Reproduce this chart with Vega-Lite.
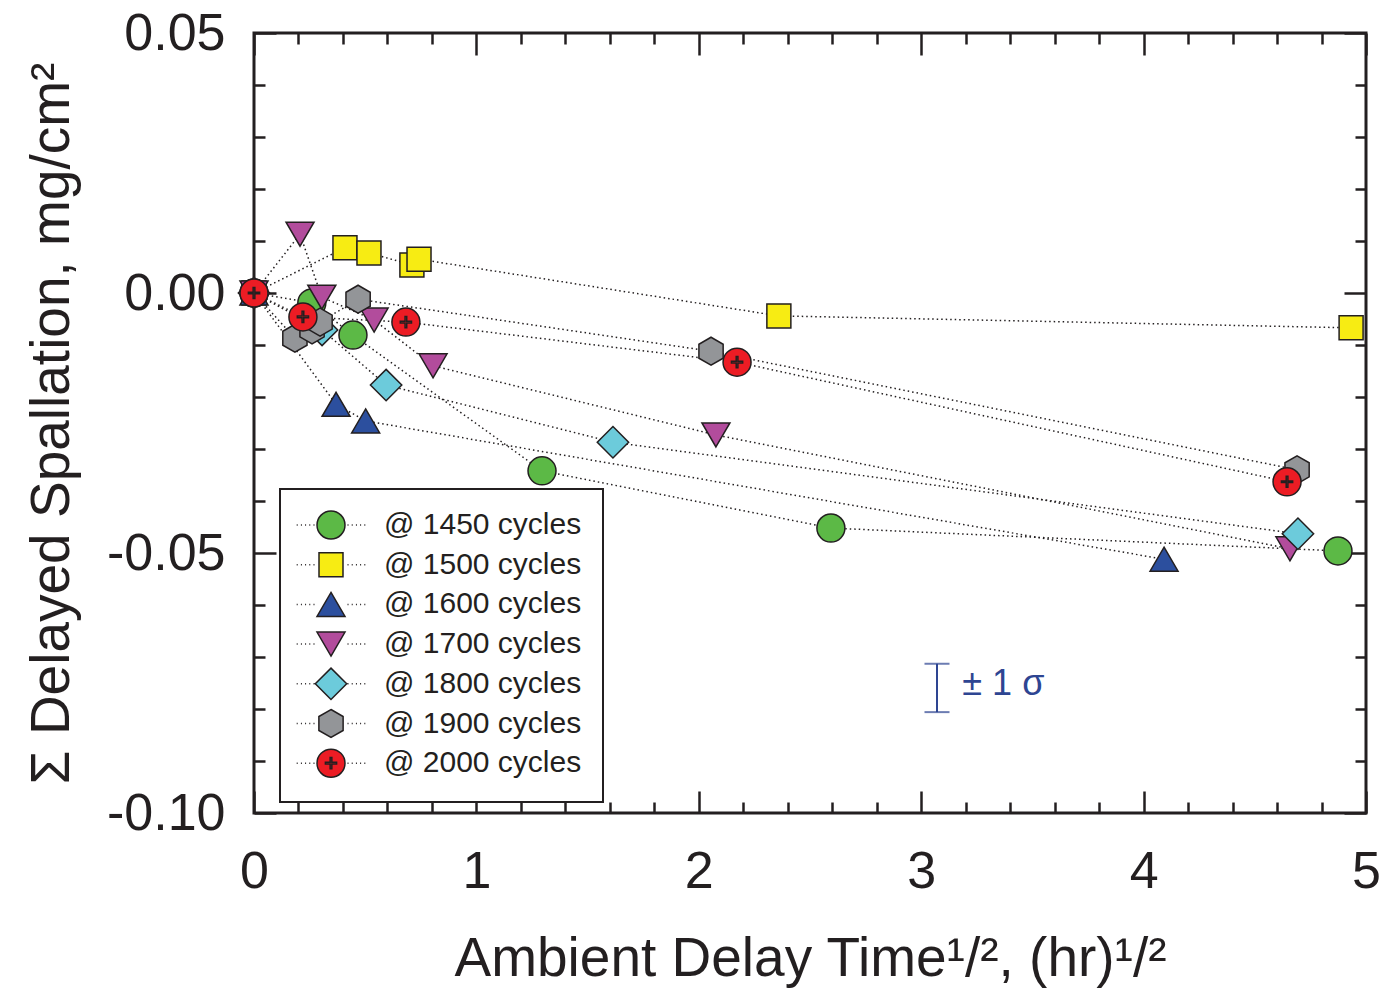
{
  "$schema": "https://vega.github.io/schema/vega-lite/v6.json",
  "width": 1112,
  "height": 780,
  "autosize": {"type": "none"},
  "padding": {"left": 254, "top": 33, "right": 19, "bottom": 176},
  "background": "white",
  "config": {
    "view": {"stroke": "#231f20", "strokeWidth": 3},
    "font": "Liberation Sans",
    "legend": {"strokeWidth": 2}
  },
  "datasets": {
    "pts": [
      {"series": "@ 1450 cycles", "x": 0, "y": 0},
      {"series": "@ 1450 cycles", "x": 0.26, "y": -0.0019},
      {"series": "@ 1450 cycles", "x": 0.445, "y": -0.0081},
      {"series": "@ 1450 cycles", "x": 1.295, "y": -0.0342},
      {"series": "@ 1450 cycles", "x": 2.594, "y": -0.0452},
      {"series": "@ 1450 cycles", "x": 4.874, "y": -0.0496},
      {"series": "@ 1500 cycles", "x": 0, "y": 0},
      {"series": "@ 1500 cycles", "x": 0.409, "y": 0.0087},
      {"series": "@ 1500 cycles", "x": 0.517, "y": 0.0077},
      {"series": "@ 1500 cycles", "x": 0.71, "y": 0.0054},
      {"series": "@ 1500 cycles", "x": 0.742, "y": 0.0065},
      {"series": "@ 1500 cycles", "x": 2.36, "y": -0.0044},
      {"series": "@ 1500 cycles", "x": 4.933, "y": -0.0067},
      {"series": "@ 1600 cycles", "x": 0, "y": 0},
      {"series": "@ 1600 cycles", "x": 0.369, "y": -0.0214},
      {"series": "@ 1600 cycles", "x": 0.502, "y": -0.0246},
      {"series": "@ 1600 cycles", "x": 4.092, "y": -0.0512},
      {"series": "@ 1700 cycles", "x": 0, "y": 0},
      {"series": "@ 1700 cycles", "x": 0.207, "y": 0.0113},
      {"series": "@ 1700 cycles", "x": 0.305, "y": -0.0008},
      {"series": "@ 1700 cycles", "x": 0.54, "y": -0.0052},
      {"series": "@ 1700 cycles", "x": 0.805, "y": -0.014},
      {"series": "@ 1700 cycles", "x": 2.077, "y": -0.0273},
      {"series": "@ 1700 cycles", "x": 4.658, "y": -0.0492},
      {"series": "@ 1800 cycles", "x": 0, "y": 0},
      {"series": "@ 1800 cycles", "x": 0.306, "y": -0.0071},
      {"series": "@ 1800 cycles", "x": 0.594, "y": -0.0177},
      {"series": "@ 1800 cycles", "x": 1.614, "y": -0.0287},
      {"series": "@ 1800 cycles", "x": 4.694, "y": -0.0463},
      {"series": "@ 1900 cycles", "x": 0, "y": 0},
      {"series": "@ 1900 cycles", "x": 0.184, "y": -0.0087},
      {"series": "@ 1900 cycles", "x": 0.261, "y": -0.0071},
      {"series": "@ 1900 cycles", "x": 0.297, "y": -0.0056},
      {"series": "@ 1900 cycles", "x": 0.468, "y": -0.0012},
      {"series": "@ 1900 cycles", "x": 2.055, "y": -0.0112},
      {"series": "@ 1900 cycles", "x": 4.69, "y": -0.034},
      {"series": "@ 2000 cycles", "x": 0, "y": 0},
      {"series": "@ 2000 cycles", "x": 0.22, "y": -0.0046},
      {"series": "@ 2000 cycles", "x": 0.683, "y": -0.0056},
      {"series": "@ 2000 cycles", "x": 2.172, "y": -0.0133},
      {"series": "@ 2000 cycles", "x": 4.645, "y": -0.0363}
    ],
    "sigmaBar": [
      {"x": 3.071, "ylo": -0.0806, "yhi": -0.0713}
    ],
    "sigmaCaps": [
      {"x": 3.071, "y": -0.0806},
      {"x": 3.071, "y": -0.0713}
    ],
    "sigmaText": [
      {"x": 3.185, "y": -0.0752, "label": "± 1 σ"}
    ]
  },
  "resolve": {
    "scale": {"fill": "independent", "shape": "independent"},
    "axis": {"x": "independent", "y": "independent"}
  },
  "layer": [
    {
      "data": {"name": "pts"},
      "mark": {"type": "line", "strokeDash": [1.5, 3], "strokeWidth": 1.5, "color": "#231f20"},
      "encoding": {
        "x": {
          "field": "x", "type": "quantitative",
          "scale": {"domain": [0, 5], "nice": false, "zero": false},
          "axis": {
            "orient": "bottom",
            "values": [0,0.2,0.4,0.6,0.8,1,1.2,1.4,1.6,1.8,2,2.2,2.4,2.6,2.8,3,3.2,3.4,3.6,3.8,4,4.2,4.4,4.6,4.8,5],
            "domain": false, "grid": false,
            "tickColor": "#231f20", "tickWidth": 2.5,
            "tickSize": {"condition": {"test": "abs(datum.value - round(datum.value)) < 0.000001", "value": -22}, "value": -11},
            "labelExpr": "abs(datum.value - round(datum.value)) < 0.000001 ? format(datum.value, 'd') : ''",
            "labelOverlap": false, "labelFlush": false,
            "labelFont": "Liberation Sans", "labelFontSize": 52, "labelColor": "#231f20",
            "labelPadding": 55,
            "title": "Ambient Delay Time¹/², (hr)¹/²",
            "titleFont": "Liberation Sans", "titleFontSize": 55, "titleFontWeight": "normal", "titleColor": "#231f20",
            "titleX": 556, "titleY": 162, "titleBaseline": "alphabetic", "titleAlign": "center"
          }
        },
        "y": {
          "field": "y", "type": "quantitative",
          "scale": {"domain": [-0.1, 0.05], "nice": false, "zero": false},
          "axis": {
            "orient": "left",
            "values": [-0.1,-0.09,-0.08,-0.07,-0.06,-0.05,-0.04,-0.03,-0.02,-0.01,0,0.01,0.02,0.03,0.04,0.05],
            "domain": false, "grid": false,
            "tickColor": "#231f20", "tickWidth": 2.5,
            "tickSize": {"condition": {"test": "abs(datum.value*20 - round(datum.value*20)) < 0.000001", "value": -22}, "value": -11},
            "labelExpr": "abs(datum.value*20 - round(datum.value*20)) < 0.000001 ? (datum.value < -0.000001 ? '-' + format(-datum.value, '.2f') : format(abs(datum.value), '.2f')) : ''",
            "labelOverlap": false, "labelFlush": false,
            "labelFont": "Liberation Sans", "labelFontSize": 52, "labelColor": "#231f20",
            "labelPadding": 51, "labelBaseline": "middle",
            "title": "Σ Delayed Spallation, mg/cm²",
            "titleFont": "Liberation Sans", "titleFontSize": 55, "titleFontWeight": "normal", "titleColor": "#231f20",
            "titleX": -186, "titleY": 390, "titleAngle": -90, "titleBaseline": "alphabetic", "titleAlign": "center"
          }
        },
        "detail": {"field": "series"}
      }
    },
    {
      "data": {"name": "pts"},
      "mark": {"type": "point", "filled": true, "size": 784, "stroke": "#231f20", "strokeWidth": 1.5, "opacity": 1},
      "encoding": {
        "x": {
          "field": "x", "type": "quantitative",
          "scale": {"domain": [0, 5], "nice": false, "zero": false},
          "axis": {
            "orient": "top",
            "values": [0,0.2,0.4,0.6,0.8,1,1.2,1.4,1.6,1.8,2,2.2,2.4,2.6,2.8,3,3.2,3.4,3.6,3.8,4,4.2,4.4,4.6,4.8,5],
            "domain": false, "grid": false, "labels": false, "title": null,
            "tickColor": "#231f20", "tickWidth": 2.5,
            "tickSize": {"condition": {"test": "abs(datum.value - round(datum.value)) < 0.000001", "value": -22}, "value": -11}
          }
        },
        "y": {
          "field": "y", "type": "quantitative",
          "scale": {"domain": [-0.1, 0.05], "nice": false, "zero": false},
          "axis": {
            "orient": "right",
            "values": [-0.1,-0.09,-0.08,-0.07,-0.06,-0.05,-0.04,-0.03,-0.02,-0.01,0,0.01,0.02,0.03,0.04,0.05],
            "domain": false, "grid": false, "labels": false, "title": null,
            "tickColor": "#231f20", "tickWidth": 2.5,
            "tickSize": {"condition": {"test": "abs(datum.value*20 - round(datum.value*20)) < 0.000001", "value": -22}, "value": -11}
          }
        },
        "fill": {
          "field": "series", "type": "nominal", "legend": null,
          "scale": {
            "domain": ["@ 1450 cycles","@ 1500 cycles","@ 1600 cycles","@ 1700 cycles","@ 1800 cycles","@ 1900 cycles","@ 2000 cycles"],
            "range": ["#5cb946","#f7ec13","#2c4f9e","#b24c9c","#6ccbdb","#939598","#ec1c24"]
          }
        },
        "shape": {
          "field": "series", "type": "nominal", "legend": null,
          "scale": {
            "domain": ["@ 1450 cycles","@ 1500 cycles","@ 1600 cycles","@ 1700 cycles","@ 1800 cycles","@ 1900 cycles","@ 2000 cycles"],
            "range": [
              "M1,0A1,1,0,1,1,-1,0A1,1,0,1,1,1,0Z",
              "M-0.857,-0.857L0.857,-0.857L0.857,0.857L-0.857,0.857Z",
              "M0,-0.857L1,0.857L-1,0.857Z",
              "M0,0.857L1,-0.857L-1,-0.857Z",
              "M0,-1.12L1.12,0L0,1.12L-1.12,0Z",
              "M0,-1L0.866,-0.5L0.866,0.5L0,1L-0.866,0.5L-0.866,-0.5Z",
              "M1,0A1,1,0,1,1,-1,0A1,1,0,1,1,1,0ZM-0.4,-0.06L-0.06,-0.06L-0.06,-0.4L0.06,-0.4L0.06,-0.06L0.4,-0.06L0.4,0.06L0.06,0.06L0.06,0.4L-0.06,0.4L-0.06,0.06L-0.4,0.06Z"
            ]
          }
        }
      }
    },
    {
      "data": {"name": "pts"},
      "mark": {"type": "point", "filled": true, "size": 784, "stroke": "#231f20", "strokeWidth": 1.5, "opacity": 0},
      "encoding": {
        "x": {"field": "x", "type": "quantitative", "scale": {"domain": [0, 5], "nice": false, "zero": false}, "axis": null},
        "y": {"field": "y", "type": "quantitative", "scale": {"domain": [-0.1, 0.05], "nice": false, "zero": false}, "axis": null},
        "fill": {
          "field": "series", "type": "nominal",
          "scale": {
            "domain": ["@ 1450 cycles","@ 1500 cycles","@ 1600 cycles","@ 1700 cycles","@ 1800 cycles","@ 1900 cycles","@ 2000 cycles"],
            "range": ["#5cb946","#f7ec13","#2c4f9e","#b24c9c","#6ccbdb","#939598","#ec1c24"]
          },
          "legend": {
            "orient": "none", "legendX": 26, "legendY": 456, "title": null, "direction": "vertical",
            "padding": 21, "strokeColor": "#231f20", "fillColor": "white", "gridAlign": "all",
            "symbolOffset": 15, "labelOffset": 38, "labelLimit": 500,
            "labelFont": "Liberation Sans", "labelFontSize": 30, "labelColor": "#231f20",
            "rowPadding": 1.7, "symbolSize": 784, "symbolStrokeColor": "#231f20", "symbolStrokeWidth": 1.5, "symbolOpacity": 1,
            "encode": {"symbols": {"update": {"stroke": {"value": "#231f20"}, "strokeWidth": {"value": 1.5}, "opacity": {"value": 1}}}}
          }
        },
        "shape": {
          "field": "series", "type": "nominal",
          "scale": {
            "domain": ["@ 1450 cycles","@ 1500 cycles","@ 1600 cycles","@ 1700 cycles","@ 1800 cycles","@ 1900 cycles","@ 2000 cycles"],
            "range": [
              "M1,0A1,1,0,1,1,-1,0A1,1,0,1,1,1,0ZM-2.45,0L-2.38,0M-2.15,0L-2.08,0M-1.85,0L-1.78,0M-1.55,0L-1.48,0M-1.25,0L-1.18,0M1.18,0L1.25,0M1.48,0L1.55,0M1.78,0L1.85,0M2.08,0L2.15,0M2.38,0L2.45,0",
              "M-0.857,-0.857L0.857,-0.857L0.857,0.857L-0.857,0.857ZM-2.45,0L-2.38,0M-2.15,0L-2.08,0M-1.85,0L-1.78,0M-1.55,0L-1.48,0M-1.25,0L-1.18,0M1.18,0L1.25,0M1.48,0L1.55,0M1.78,0L1.85,0M2.08,0L2.15,0M2.38,0L2.45,0",
              "M0,-0.857L1,0.857L-1,0.857ZM-2.45,0L-2.38,0M-2.15,0L-2.08,0M-1.85,0L-1.78,0M-1.55,0L-1.48,0M-1.25,0L-1.18,0M1.18,0L1.25,0M1.48,0L1.55,0M1.78,0L1.85,0M2.08,0L2.15,0M2.38,0L2.45,0",
              "M0,0.857L1,-0.857L-1,-0.857ZM-2.45,0L-2.38,0M-2.15,0L-2.08,0M-1.85,0L-1.78,0M-1.55,0L-1.48,0M-1.25,0L-1.18,0M1.18,0L1.25,0M1.48,0L1.55,0M1.78,0L1.85,0M2.08,0L2.15,0M2.38,0L2.45,0",
              "M0,-1.12L1.12,0L0,1.12L-1.12,0ZM-2.45,0L-2.38,0M-2.15,0L-2.08,0M-1.85,0L-1.78,0M-1.55,0L-1.48,0M-1.25,0L-1.18,0M1.18,0L1.25,0M1.48,0L1.55,0M1.78,0L1.85,0M2.08,0L2.15,0M2.38,0L2.45,0",
              "M0,-1L0.866,-0.5L0.866,0.5L0,1L-0.866,0.5L-0.866,-0.5ZM-2.45,0L-2.38,0M-2.15,0L-2.08,0M-1.85,0L-1.78,0M-1.55,0L-1.48,0M-1.25,0L-1.18,0M1.18,0L1.25,0M1.48,0L1.55,0M1.78,0L1.85,0M2.08,0L2.15,0M2.38,0L2.45,0",
              "M1,0A1,1,0,1,1,-1,0A1,1,0,1,1,1,0ZM-0.4,-0.06L-0.06,-0.06L-0.06,-0.4L0.06,-0.4L0.06,-0.06L0.4,-0.06L0.4,0.06L0.06,0.06L0.06,0.4L-0.06,0.4L-0.06,0.06L-0.4,0.06ZM-2.45,0L-2.38,0M-2.15,0L-2.08,0M-1.85,0L-1.78,0M-1.55,0L-1.48,0M-1.25,0L-1.18,0M1.18,0L1.25,0M1.48,0L1.55,0M1.78,0L1.85,0M2.08,0L2.15,0M2.38,0L2.45,0"
            ]
          },
          "legend": {
            "orient": "none", "legendX": 26, "legendY": 456, "title": null, "direction": "vertical",
            "padding": 21, "strokeColor": "#231f20", "fillColor": "white", "gridAlign": "all",
            "symbolOffset": 15, "labelOffset": 38, "labelLimit": 500,
            "labelFont": "Liberation Sans", "labelFontSize": 30, "labelColor": "#231f20",
            "rowPadding": 1.7, "symbolSize": 784, "symbolStrokeColor": "#231f20", "symbolStrokeWidth": 1.5, "symbolOpacity": 1,
            "encode": {"symbols": {"update": {"stroke": {"value": "#231f20"}, "strokeWidth": {"value": 1.5}, "opacity": {"value": 1}}}}
          }
        }
      }
    },
    {
      "data": {"name": "sigmaBar"},
      "mark": {"type": "rule", "color": "#2e4592", "strokeWidth": 2},
      "encoding": {
        "x": {"field": "x", "type": "quantitative", "scale": {"domain": [0, 5], "nice": false, "zero": false}, "axis": null},
        "y": {"field": "ylo", "type": "quantitative", "scale": {"domain": [-0.1, 0.05], "nice": false, "zero": false}, "axis": null},
        "y2": {"field": "yhi"}
      }
    },
    {
      "data": {"name": "sigmaCaps"},
      "mark": {"type": "tick", "orient": "horizontal", "color": "#2e4592", "size": 25, "thickness": 2},
      "encoding": {
        "x": {"field": "x", "type": "quantitative", "scale": {"domain": [0, 5], "nice": false, "zero": false}, "axis": null},
        "y": {"field": "y", "type": "quantitative", "scale": {"domain": [-0.1, 0.05], "nice": false, "zero": false}, "axis": null}
      }
    },
    {
      "data": {"name": "sigmaText"},
      "mark": {"type": "text", "color": "#2e4592", "fontSize": 36, "font": "Liberation Sans", "align": "left", "baseline": "middle"},
      "encoding": {
        "x": {"field": "x", "type": "quantitative", "scale": {"domain": [0, 5], "nice": false, "zero": false}, "axis": null},
        "y": {"field": "y", "type": "quantitative", "scale": {"domain": [-0.1, 0.05], "nice": false, "zero": false}, "axis": null},
        "text": {"field": "label"}
      }
    }
  ]
}
